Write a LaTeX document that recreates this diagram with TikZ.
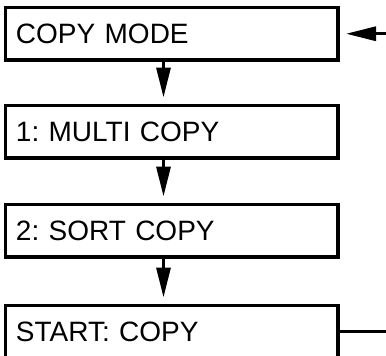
\documentclass[tikz,border=0pt]{standalone}
\usepackage{fontspec}
\setmainfont{Liberation Sans}
\usetikzlibrary{arrows.meta,calc}
\frenchspacing
\begin{document}
\begin{tikzpicture}[x=1pt,y=-1pt,
  box/.style={draw, line width=3.2pt, rectangle, anchor=north west, outer sep=0pt,
    minimum width=332.5pt, minimum height=52.5pt, text width=311.5pt,
    inner xsep=10.5pt, inner ysep=0pt, align=left, text height=20pt, text depth=0pt,
    font=\fontsize{28}{30}\selectfont\frenchspacing},
  arr/.style={line width=3.2pt, -{Triangle[length=30pt,width=14pt]}, shorten >=8pt}]
\useasboundingbox (0,0) rectangle (386,356);
\clip (0,0) rectangle (386,356);
\node[box] (s1) at (5.5,7.5) {COPY MODE};
\node[box] (s2) at (5.5,105.5) {1: MULTI COPY};
\node[box] (s3) at (5.5,204.5) {2: SORT COPY};
\node[box] (s4) at (5.5,305.5) {START: COPY};
\draw[arr] ($(s1.south west)+(158,0)$) -- ($(s2.north west)+(158,0)$);
\draw[arr] ($(s2.south west)+(158,0)$) -- ($(s3.north west)+(158,0)$);
\draw[arr] ($(s3.south west)+(158,0)$) -- ($(s4.north west)+(158,0)$);
\coordinate (loop) at (420,0);
\draw[arr] (s4.east) -- (s4.east -| loop) -- (s1.east -| loop) -- (s1.east);
\end{tikzpicture}
\end{document}
